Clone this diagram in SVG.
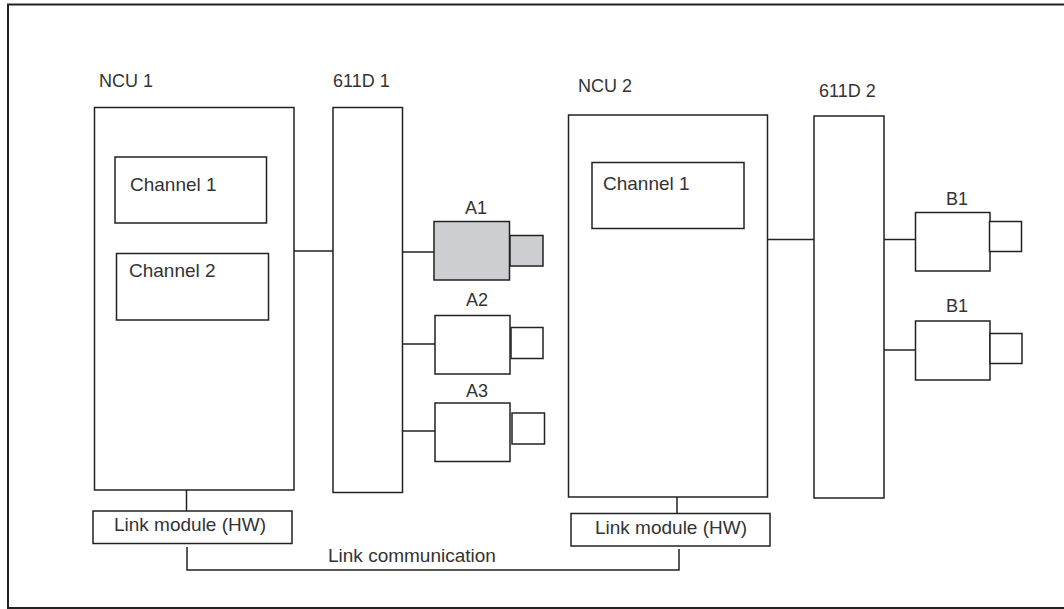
<svg xmlns="http://www.w3.org/2000/svg" width="1064" height="609" viewBox="0 0 1064 609">
<style>
.b{fill:#fff;stroke:#222;stroke-width:1.5}
.g{fill:#cdced2;stroke:#222;stroke-width:1.5}
.c{fill:none;stroke:#222;stroke-width:1.5}
text{font-family:"Liberation Sans",Arial,sans-serif;fill:#333;font-size:19px}
.s{font-size:18px}
.m{text-anchor:middle}
</style>
<rect x="0" y="0" width="1064" height="609" fill="#fff"/>
<rect x="8" y="4.5" width="1062" height="603.5" fill="none" stroke="#222" stroke-width="2"/>
<g id="connectors">
<line class="c" x1="294" y1="251" x2="333" y2="251"/>
<line class="c" x1="402" y1="252" x2="434" y2="252"/>
<line class="c" x1="402" y1="344" x2="435" y2="344"/>
<line class="c" x1="402" y1="431" x2="435" y2="431"/>
<line class="c" x1="767" y1="239.5" x2="814" y2="239.5"/>
<line class="c" x1="884" y1="239.5" x2="916" y2="239.5"/>
<line class="c" x1="884" y1="350" x2="916" y2="350"/>
<line class="c" x1="186.5" y1="490" x2="186.5" y2="511"/>
<line class="c" x1="677" y1="497" x2="677" y2="513"/>
<polyline class="c" points="187,547 187,570 679,570 679,549"/>
</g>
<g id="ncu1">
<rect class="b" x="94.5" y="107.5" width="199.5" height="382.5"/>
<text class="s" x="99" y="87">NCU 1</text>
</g>
<g id="ncu1-channel1">
<rect class="b" x="115" y="157" width="151.5" height="66"/>
<text x="130" y="191">Channel 1</text>
</g>
<g id="ncu1-channel2">
<rect class="b" x="116.5" y="253.5" width="152" height="66.5"/>
<text x="129" y="277">Channel 2</text>
</g>
<g id="d611-1">
<rect class="b" x="333" y="107.5" width="69.5" height="385"/>
<text class="s" x="333" y="87">611D 1</text>
</g>
<g id="a1">
<rect class="g" x="434" y="221.5" width="75.5" height="58.5"/>
<rect class="g" x="510" y="235.5" width="33" height="30.5"/>
<text class="s m" x="476" y="214">A1</text>
</g>
<g id="a2">
<rect class="b" x="435" y="315.5" width="75" height="58.5"/>
<rect class="b" x="511" y="327.5" width="32" height="31"/>
<text class="s m" x="477" y="306">A2</text>
</g>
<g id="a3">
<rect class="b" x="435" y="403" width="75" height="58.5"/>
<rect class="b" x="512" y="413" width="32.5" height="31"/>
<text class="s m" x="477" y="397">A3</text>
</g>
<g id="ncu2">
<rect class="b" x="568.5" y="115" width="199" height="382"/>
<text class="s" x="578" y="92">NCU 2</text>
</g>
<g id="ncu2-channel1">
<rect class="b" x="592" y="162.5" width="152" height="66"/>
<text x="603" y="190">Channel 1</text>
</g>
<g id="d611-2">
<rect class="b" x="814" y="116" width="70" height="382"/>
<text class="s" x="819" y="97">611D 2</text>
</g>
<g id="b1-top">
<rect class="b" x="915.5" y="212.5" width="74.5" height="58.5"/>
<rect class="b" x="989.5" y="221.5" width="32" height="30"/>
<text class="s m" x="957" y="205">B1</text>
</g>
<g id="b1-bottom">
<rect class="b" x="915.5" y="321" width="74.5" height="59"/>
<rect class="b" x="990" y="333.5" width="32" height="30"/>
<text class="s m" x="957" y="312">B1</text>
</g>
<g id="link1">
<rect class="b" x="93" y="511" width="199" height="32.5"/>
<text class="m" x="190" y="531">Link module (HW)</text>
</g>
<g id="link2">
<rect class="b" x="571" y="513.5" width="199" height="32.5"/>
<text class="m" x="671" y="534">Link module (HW)</text>
</g>
<text x="328" y="562">Link communication</text>
</svg>
